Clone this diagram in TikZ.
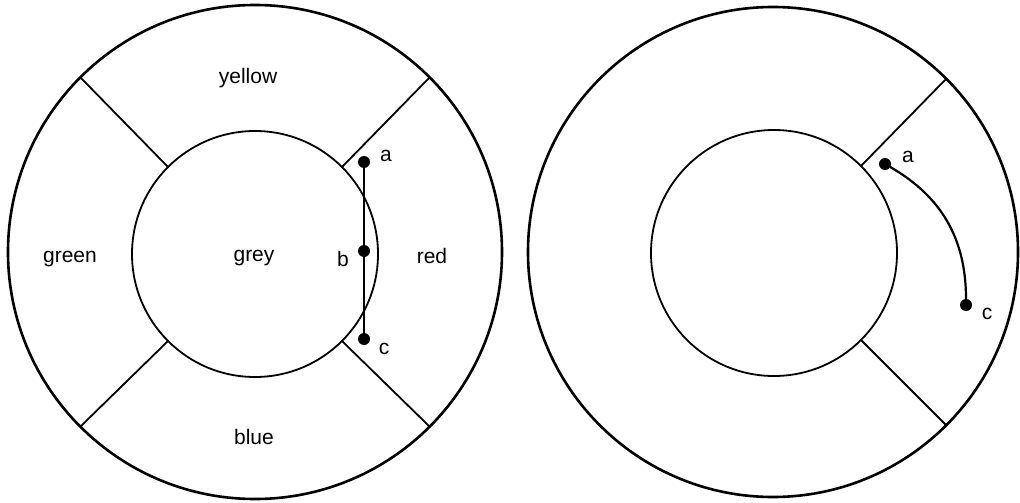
\documentclass[tikz,border=0pt]{standalone}
\usepackage{fontspec}
\setmainfont{Liberation Sans}
\usetikzlibrary{calc}

\tikzset{
  rim/.style={line width=2.6pt},
  disc/.style={line width=1.8pt},
  spoke/.style={line width=1.8pt},
  dot/.style={circle, fill=black, inner sep=0pt, minimum size=12pt},
  lbl/.style={font=\fontsize{21}{25}\selectfont},
  walk/.style={line width=2.2pt}
}

\begin{document}
\begin{tikzpicture}[line cap=round, line join=round, x=1pt, y=-1pt]
  \useasboundingbox (0,0) rectangle (1020,503);
  % left disc with four coloured sectors
  \draw[rim] (255,252) circle[radius=247];
  \draw[disc] (255,254) circle[radius=123];
  \foreach \ang in {45,135,225,315}
    \draw[spoke] ($(255,254)+(\ang:123)$) -- ($(255,252)+(\ang:247)$);
  \node[lbl] (yellow) at (248,78) {yellow};
  \node[lbl] (green) at (70,259) {green};
  \node[lbl] (grey) at (254,258) {grey};
  \node[lbl] (red) at (432,256) {red};
  \node[lbl] (blue) at (254,437) {blue};
  \node[dot] (a1) at (364,162) {};
  \node[dot] (b1) at (364,251) {};
  \node[dot] (c1) at (364,339) {};
  \node[lbl] (la1) at (386,156) {a};
  \node[lbl] (lb1) at (343,259) {b};
  \node[lbl] (lc1) at (384,349) {c};
  \draw[walk] (a1) -- (b1);
  \draw[walk] (b1) -- (c1);

  % right disc
  \draw[rim] (773,252) circle[radius=245];
  \draw[disc] (774,253) circle[radius=123];
  \foreach \ang in {45,315}
    \draw[spoke] ($(774,253)+(\ang:123)$) -- ($(773,252)+(\ang:245)$);
  \node[dot] (a2) at (885,164) {};
  \node[dot] (c2) at (966,305) {};
  \node[lbl] (la2) at (908,157) {a};
  \node[lbl] (lc2) at (987,314) {c};
  \draw[walk] (a2) to[out=-30, in=90] (c2);
\end{tikzpicture}
\end{document}
